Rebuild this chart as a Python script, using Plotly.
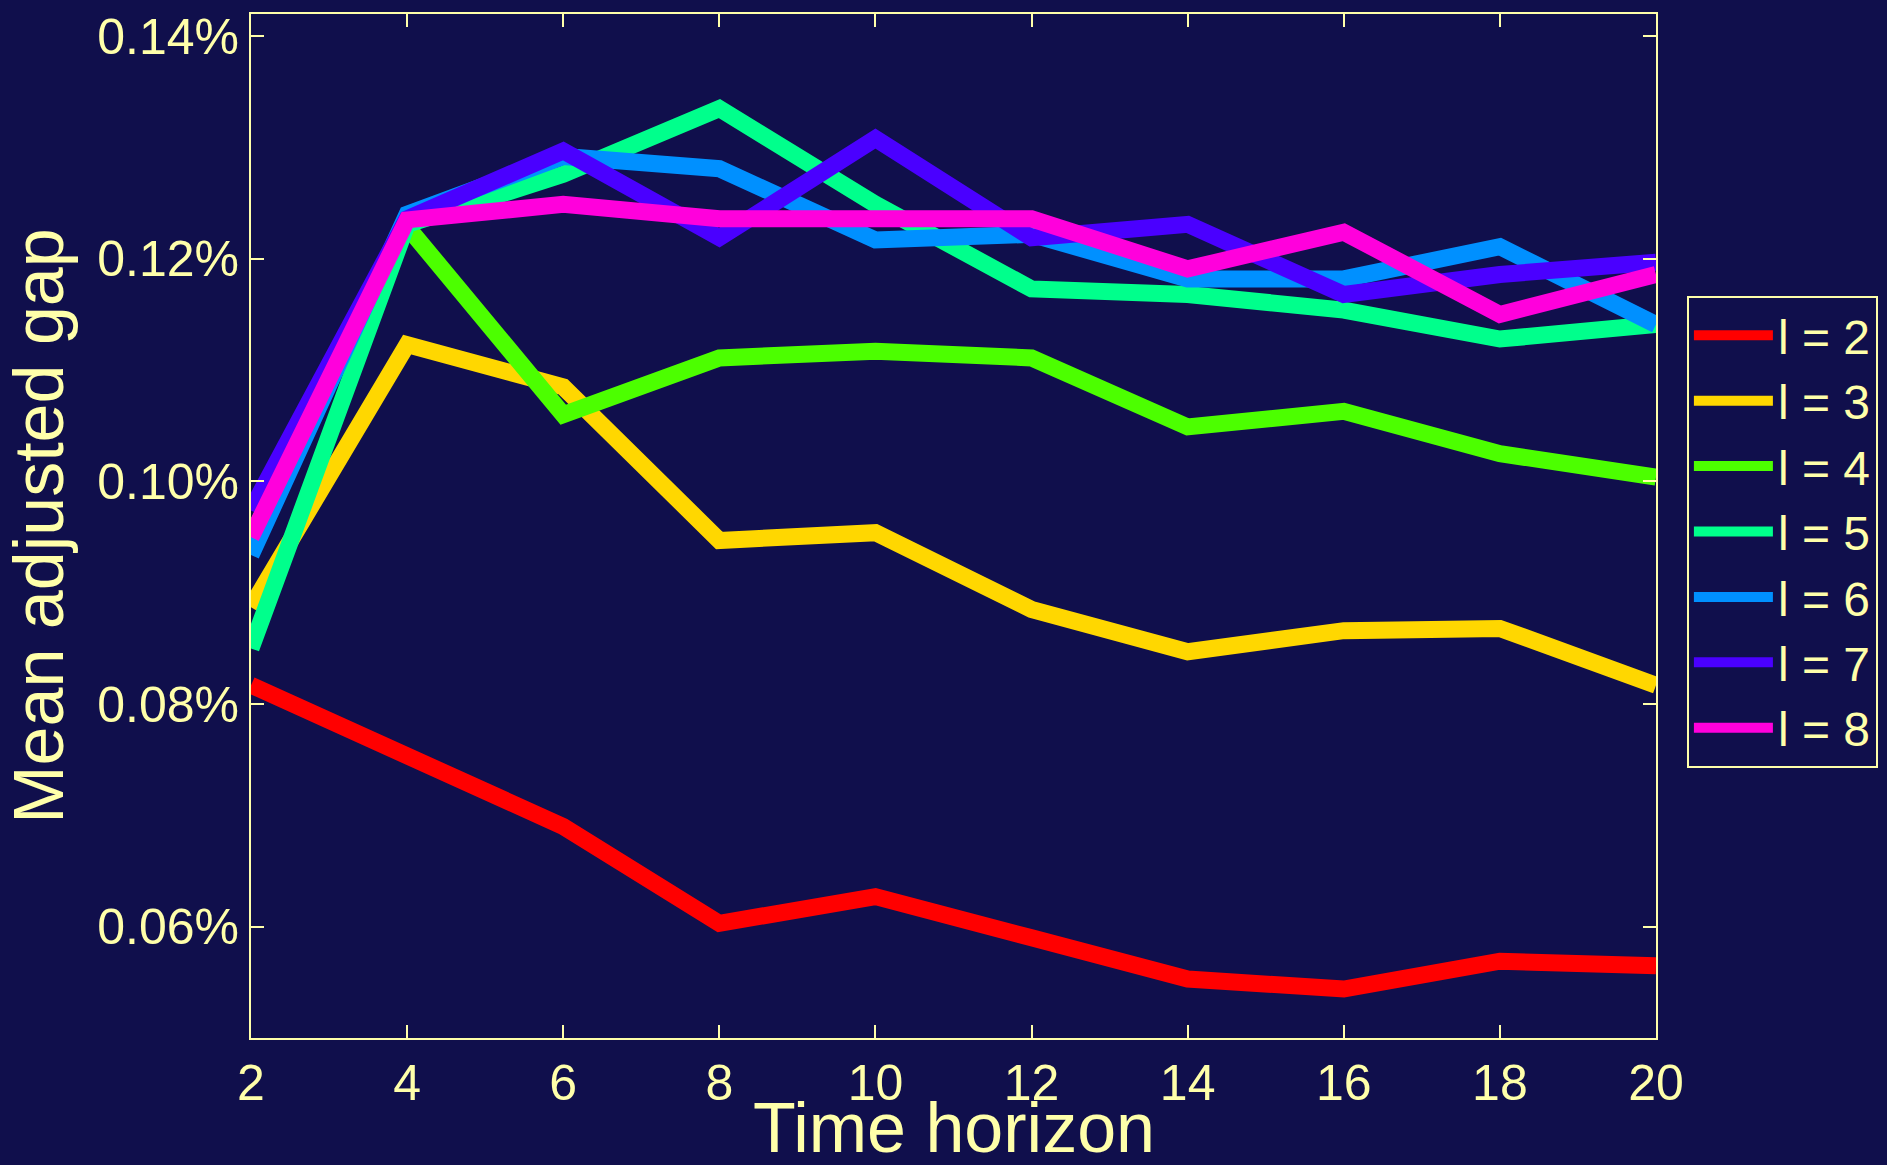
import plotly.graph_objects as go

horizon = [2, 4, 6, 8, 10, 12, 14, 16, 18, 20]

# Mean adjusted gap (in %), one list per l
gap_l2 = [0.0817, 0.0755, 0.0690, 0.0603, 0.0627, 0.0590, 0.0553, 0.0544, 0.0569, 0.0565]
gap_l3 = [0.0887, 0.1123, 0.1085, 0.0947, 0.0954, 0.0885, 0.0847, 0.0866, 0.0868, 0.0817]
gap_l4 = [0.0950, 0.1229, 0.1060, 0.1111, 0.1117, 0.1111, 0.1049, 0.1063, 0.1025, 0.1004]
gap_l5 = [0.0850, 0.1231, 0.1276, 0.1335, 0.1249, 0.1173, 0.1168, 0.1154, 0.1128, 0.1141]
gap_l6 = [0.0934, 0.1240, 0.1292, 0.1281, 0.1217, 0.1222, 0.1182, 0.1182, 0.1211, 0.1141]
gap_l7 = [0.0974, 0.1236, 0.1297, 0.1219, 0.1308, 0.1219, 0.1231, 0.1168, 0.1186, 0.1197]
gap_l8 = [0.0950, 0.1235, 0.1249, 0.1236, 0.1236, 0.1236, 0.1191, 0.1224, 0.1150, 0.1186]

series_names = ["l = 2", "l = 3", "l = 4", "l = 5", "l = 6", "l = 7", "l = 8"]
series_values = [gap_l2, gap_l3, gap_l4, gap_l5, gap_l6, gap_l7, gap_l8]
series_colors = ["#FF0000", "#FFD700", "#4CFF00", "#00FF8C", "#0090FF", "#4A00FF", "#FF00DC"]

y_tick_vals = [0.0006, 0.0008, 0.0010, 0.0012, 0.0014]
x_tick_vals = horizon

BG = "#100F4C"
FG = "#FFFFAA"
FONT = "Arial, Liberation Sans, sans-serif"

fig = go.Figure()
for name, vals, col in zip(series_names, series_values, series_colors):
    fig.add_trace(go.Scatter(
        x=horizon, y=[v / 100 for v in vals], name=name, mode="lines",
        line=dict(color=col, width=17),
    ))

axis_common = dict(
    showline=True, linecolor=FG, linewidth=2, mirror="ticks",
    ticks="inside", tickcolor=FG, ticklen=13, tickwidth=2,
    showgrid=False, zeroline=False, automargin=False,
    tickfont=dict(family=FONT, size=50, color=FG),
)

fig.update_layout(
    width=1887, height=1165,
    paper_bgcolor=BG, plot_bgcolor=BG,
    margin=dict(l=251, r=231, t=14, b=127, autoexpand=False),
    font=dict(family=FONT, color=FG),
    xaxis=dict(range=[2, 20], tickvals=x_tick_vals, **axis_common),
    yaxis=dict(range=[0.000500, 0.001420], tickvals=y_tick_vals, tickformat=".2%",
               title=dict(text="Mean adjusted gap", font=dict(family=FONT, size=70, color=FG)),
               **axis_common),
    legend=dict(
        x=1.022, y=0.725, xanchor="left", yanchor="top",
        bgcolor=BG, bordercolor=FG, borderwidth=2,
        font=dict(family=FONT, size=48, color=FG),
        tracegroupgap=0, itemwidth=79,
    ),
    showlegend=True,
    annotations=[dict(
        text="Time horizon", xref="paper", yref="paper", x=0.5, y=-0.048,
        xanchor="center", yanchor="top", showarrow=False,
        font=dict(family=FONT, size=70, color=FG),
    )],
)

fig.write_html(
    "out.html",
    config={"displayModeBar": False},
    post_script="document.body.style.margin='0';document.body.style.background='#100F4C';",
)
